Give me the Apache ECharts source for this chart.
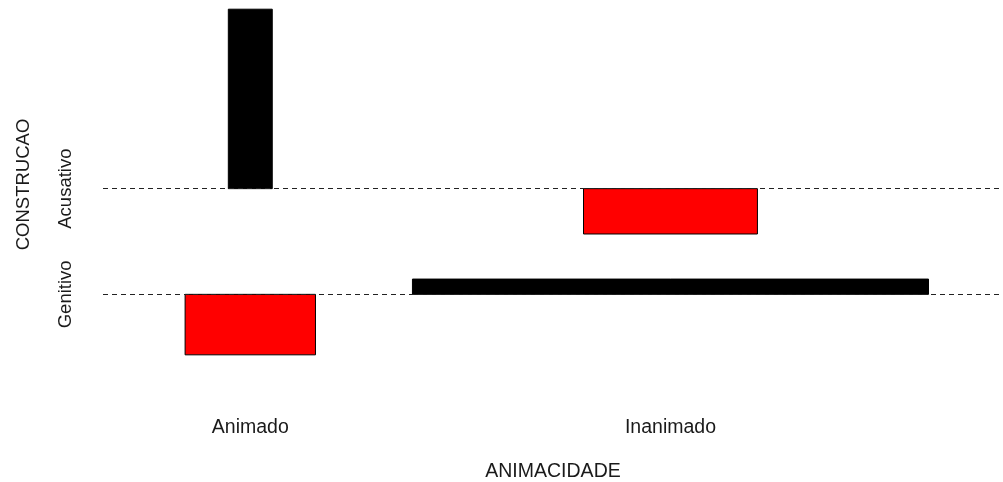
<!DOCTYPE html>
<html>
<head>
<meta charset="utf-8">
<script src="https://cdn.jsdelivr.net/npm/echarts@6/dist/echarts.min.js"></script>
<style>
  html, body { margin: 0; padding: 0; background: #fff; }
  #chart { width: 1003px; height: 482px; }
</style>
</head>
<body>
<div id="chart"></div>
<script>
// tabela de contingencia: ANIMACIDADE x CONSTRUCAO
var animacidade = ['Animado', 'Inanimado'];
var construcao = ['Acusativo', 'Genitivo'];
var contagemAnimado = [14, 46];     // Acusativo, Genitivo
var contagemInanimado = [88, 852];  // Acusativo, Genitivo

var obs = [contagemAnimado, contagemInanimado];
var space = 0.3;

// esperados e residuos como no assocplot
var total = 0, linha = [0, 0], coluna = [0, 0];
obs.forEach(function (r, i) {
    r.forEach(function (v, j) {
        total += v; linha[i] += v; coluna[j] += v;
    });
});
var e = [], d = [];
obs.forEach(function (r, i) {
    e.push([]); d.push([]);
    r.forEach(function (v, j) {
        var esp = linha[i] * coluna[j] / total;
        e[i].push(Math.sqrt(esp));
        d[i].push((v - esp) / Math.sqrt(esp));
    });
});

// larguras das colunas (x) e alturas das faixas (y)
var xw = e.map(function (r) { return Math.max.apply(null, r); });
var yh = construcao.map(function (c, j) {
    var col = d.map(function (r) { return r[j]; });
    return Math.max.apply(null, col) - Math.min.apply(null, col);
});
var xDelta = (xw[0] + xw[1]) / 2 * space;
var yDelta = (yh[0] + yh[1]) / 2 * space;
var xMax = xw[0] + xw[1] + 2 * xDelta;
var yMax = yh[0] + yh[1] + 2 * yDelta;

var xm = [], acc = 0;
xw.forEach(function (w) { var prev = acc; acc += w + xDelta; xm.push((prev + acc) / 2); });

// faixas empilhadas de cima para baixo
var ym = [], topo = yMax;
construcao.forEach(function (c, j) {
    var maxPos = Math.max(0, d[0][j], d[1][j]);
    ym.push(topo - yDelta / 2 - maxPos);
    topo -= yh[j] + yDelta;
});

var celulas = [];
animacidade.forEach(function (a, i) {
    construcao.forEach(function (c, j) {
        celulas.push([xm[i], ym[j], e[i][j], d[i][j]]);
    });
});

// a regiao do grafico original passa um pouco da imagem (topo e direita)
var plotW = 907.6, plotH = 422.3;
var xMinV = -0.04 * xMax;
var xMaxV = 1.04 * xMax - 7.6 * (1.08 * xMax / plotW);
var yMinV = -0.04 * yMax;
var yMaxV = 1.04 * yMax - 29 * (1.08 * yMax / plotH);

var fonte = "'Liberation Sans', Arial, sans-serif";
var cor = '#1a1a1a';
var chart = echarts.init(document.getElementById('chart'));

var option = {
    animation: false,
    grid: { left: 103, right: 0, top: 0, bottom: 89, outerBoundsMode: 'none', containLabel: false },
    xAxis: {
        type: 'value',
        min: xMinV,
        max: xMaxV,
        name: 'ANIMACIDADE',
        nameLocation: 'middle',
        nameGap: 69,
        nameTextStyle: { fontFamily: fonte, fontSize: 19.5, color: cor },
        axisLine: { show: false },
        axisTick: { show: false },
        splitLine: { show: false },
        axisLabel: {
            customValues: xm,
            margin: 25,
            fontFamily: fonte, fontSize: 19.5, color: cor,
            formatter: function (v) {
                var i = xm.findIndex(function (x) { return Math.abs(x - v) < 1e-6; });
                return i >= 0 ? animacidade[i] : '';
            }
        }
    },
    yAxis: {
        type: 'value',
        min: yMinV,
        max: yMaxV,
        name: 'CONSTRUCAO',
        nameLocation: 'middle',
        nameRotate: 90,
        nameGap: 70,
        nameTextStyle: { fontFamily: fonte, fontSize: 18.5, color: cor, padding: [0, 0, 0, 24] },
        axisLine: { show: false },
        axisTick: { show: false },
        splitLine: { show: false },
        axisLabel: {
            customValues: ym,
            rotate: 90,
            margin: 28,
            fontFamily: fonte, fontSize: 18.5, color: cor,
            formatter: function (v) {
                var j = ym.findIndex(function (y) { return Math.abs(y - v) < 1e-6; });
                return j >= 0 ? construcao[j] : '';
            }
        }
    },
    series: [{
        type: 'custom',
        data: celulas,
        renderItem: function (params, api) {
            var x = api.value(0), y = api.value(1), w = api.value(2), h = api.value(3);
            var p1 = api.coord([x - w / 2, y + h]);
            var p2 = api.coord([x + w / 2, y]);
            return {
                type: 'rect',
                shape: {
                    x: Math.min(p1[0], p2[0]),
                    y: Math.min(p1[1], p2[1]),
                    width: Math.abs(p2[0] - p1[0]),
                    height: Math.abs(p2[1] - p1[1])
                },
                style: { fill: h > 0 ? '#000000' : '#ff0000', stroke: '#000000', lineWidth: 1 }
            };
        },
        markLine: {
            silent: true,
            symbol: 'none',
            label: { show: false },
            lineStyle: { color: '#222', type: [5, 4], width: 1 },
            data: ym.map(function (y) { return { yAxis: y }; })
        }
    }]
};

chart.setOption(option);
</script>
</body>
</html>
